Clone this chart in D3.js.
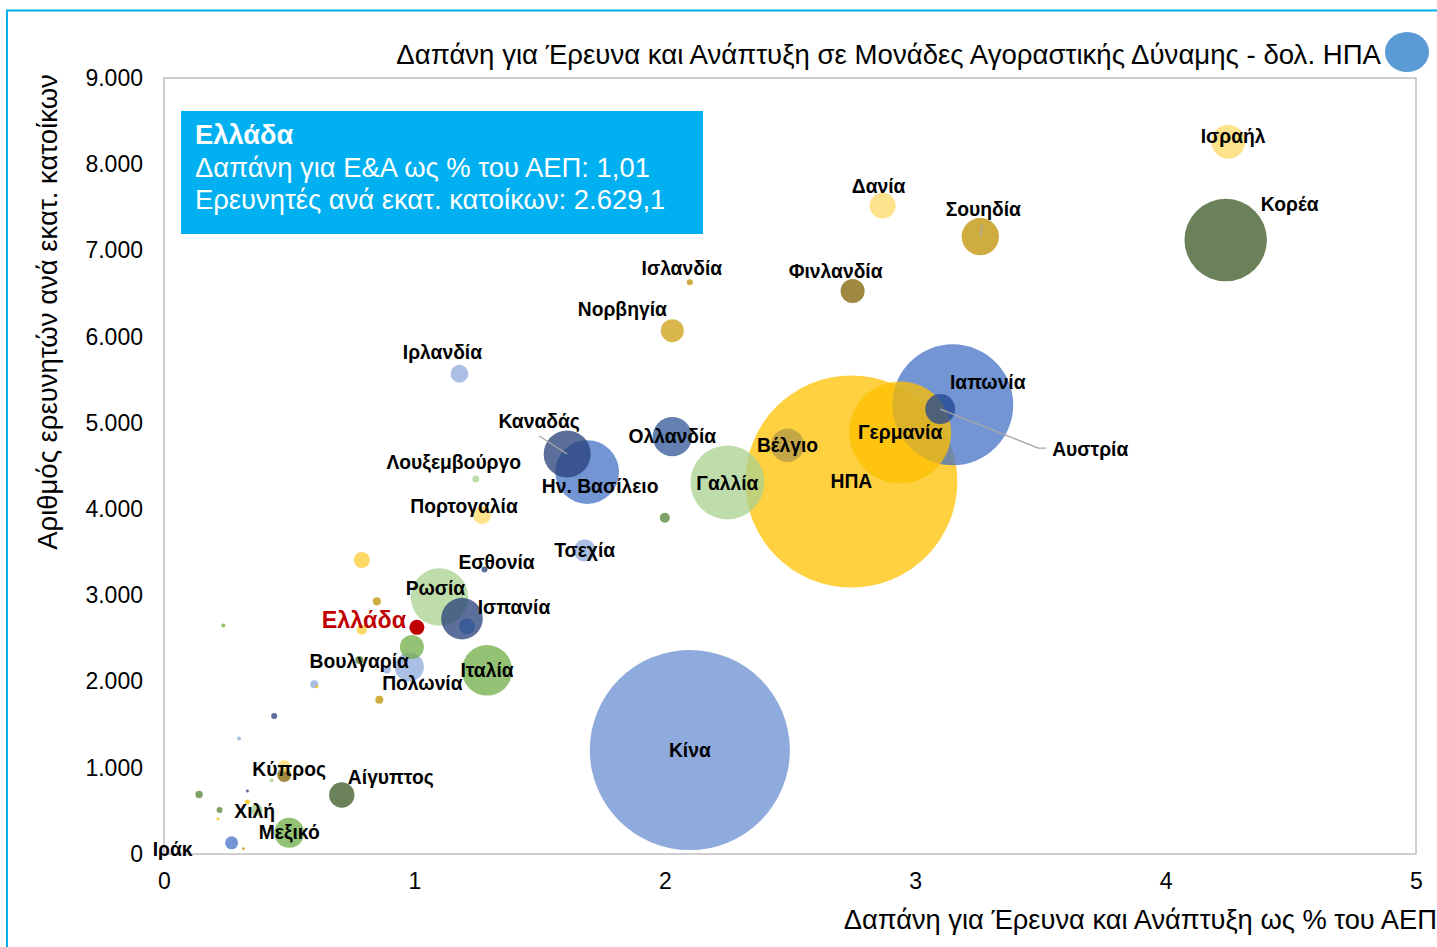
<!DOCTYPE html>
<html>
<head>
<meta charset="utf-8">
<script src="https://cdn.jsdelivr.net/npm/d3@7"></script>
<style>
  body { margin: 0; background: #fff; }
  svg text { font-family: "Liberation Sans", Arial, sans-serif; }
</style>
</head>
<body>
<div id="chart"></div>
<script>
/* DATA */
// country label ("" = unlabelled bubble)
const countries = [
  "Ισραήλ", "Κορέα", "Δανία", "Σουηδία", "Φινλανδία", "Ισλανδία", "Νορβηγία", "Ιρλανδία",
  "Καναδάς", "Ην. Βασίλειο", "Ολλανδία", "Γαλλία", "Βέλγιο", "ΗΠΑ", "Γερμανία", "Ιαπωνία",
  "Αυστρία", "Κίνα", "Ιταλία", "Ισπανία", "", "Ρωσία", "Ελλάδα", "", "Πολωνία", "",
  "Βουλγαρία", "", "", "", "Λουξεμβούργο", "Πορτογαλία", "Εσθονία", "Τσεχία", "", "", "",
  "", "", "", "Κύπρος", "", "", "Αίγυπτος", "", "", "", "", "", "Χιλή", "Μεξικό", "Ιράκ", "", ""
];
// GERD as % of GDP
const gerdPct = [
  4.25, 4.24, 2.87, 3.26, 2.75, 2.10, 2.03, 1.18,
  1.61, 1.69, 2.03, 2.25, 2.49, 2.745, 2.94, 3.15,
  3.10, 2.10, 1.29, 1.19, 1.21, 1.10, 1.01, 0.99, 0.98, 0.89,
  0.78, 0.79, 0.85, 0.79, 1.245, 1.27, 1.28, 1.68, 2.00, 0.60, 0.61,
  0.86, 0.44, 0.30, 0.48, 0.48, 0.43, 0.71, 0.14, 0.333, 0.333, 0.222, 0.216, 0.37, 0.50, 0.27, 0.317, 0.237
];
// researchers per million inhabitants
const researchers = [
  8260, 7120, 7520, 7160, 6530, 6630, 6070, 5570,
  4640, 4430, 4840, 4310, 4740, 4320, 4890, 5210,
  5160, 1206, 2130, 2730, 2640, 2980, 2629.1, 2400, 2170, 2140,
  2250, 2600, 2930, 3410, 4350, 3930, 3300, 3520, 3900, 1970, 1940,
  1790, 1600, 1340, 1020, 915, 855, 684, 690, 731, 603, 510, 406, 510, 246, 130, 61, 2650
];
// GERD in PPP, billion US$
const gerdPPP = [
  12.2, 72, 7.2, 14.8, 6.1, 0.38, 5.6, 3.4,
  23.4, 43, 16.4, 58, 11.8, 476, 110, 155,
  9.5, 424, 27, 18.3, 2.7, 35, 2.4, 6.1, 8.9, 0.68,
  0.68, 1.06, 0.68, 2.7, 0.52, 3.4, 0.38, 5.1, 1.06, 0.68, 0.095,
  0.68, 0.38, 0.17, 1.53, 2.08, 0.17, 6.8, 0.58, 0.095, 0.265, 0.38, 0.095, 1.53, 9.5, 1.8, 0.095, 0.17
];
const xTicks = [0, 1, 2, 3, 4, 5];
const yTicks = [0, 1000, 2000, 3000, 4000, 5000, 6000, 7000, 8000, 9000];
const greece = { name: "Ελλάδα", pct: "1,01", res: "2.629,1" };

/* STYLES (per bubble) */
const fills = [
  "#FFD966", "#385723", "#FFD966", "#BF9000", "#7F6000", "#BF9000", "#CC9F10", "#8FAADC",
  "#263F78", "#4472C4", "#2F5597", "#A9D18E", "#B09848", "#FFC000", "#FFC000", "#4472C4",
  "#1F4590", "#698DD0", "#70AD47", "#263F78", "#2F5597", "#A9D18E", "#C00000", "#70AD47", "#8FAADC", "#8FAADC",
  "#548235", "#FFCC33", "#BF9000", "#FFCC33", "#A9D18E", "#FFD966", "#263F78", "#8FAADC", "#548235", "#8FAADC", "#FFC000",
  "#BF9000", "#263F78", "#8FAADC", "#FFD966", "#7F6000", "#A9D18E", "#385723", "#548235", "#263F78", "#FFC000", "#548235", "#FFC000", "#A9D18E", "#70AD47", "#4472C4", "#BF9000", "#70AD47"
];
// label nudges in px, from bubble centre
const labelShift = {
  "Ισραήλ": [5, -5], "Κορέα": [64, -36], "Δανία": [-4, -19], "Σουηδία": [3, -27],
  "Φινλανδία": [-17, -19], "Ισλανδία": [-8, -14], "Νορβηγία": [-50, -21], "Ιρλανδία": [-17, -21],
  "Καναδάς": [-28, -32], "Ην. Βασίλειο": [13, 14], "Ιαπωνία": [35, -22], "Αυστρία": [150, 40],
  "Ισπανία": [52, -11], "Ρωσία": [-4, -9], "Ελλάδα": [-53, -7], "Πολωνία": [13, 17],
  "Λουξεμβούργο": [-22, -16], "Πορτογαλία": [-18, -9], "Εσθονία": [12, -7], "Κύπρος": [5, 3],
  "Αίγυπτος": [49, -18], "Χιλή": [-2, 1], "Ιράκ": [-59, 7], "Γαλλία": [0, 1], "Βουλγαρία": [0, 1]
};

const width = 1437, height = 947;
const plot = { left: 164, right: 1416, top: 78, bottom: 854 };

const svg = d3.select("#chart").append("svg")
  .attr("width", width)
  .attr("height", height);

// outer frame
svg.append("rect")
  .attr("x", 7).attr("y", 10.5)
  .attr("width", width + 20).attr("height", height + 20)
  .attr("fill", "none")
  .attr("stroke", "#00B0F0")
  .attr("stroke-width", 2);

const xScale = d3.scaleLinear().domain([0, 5]).range([plot.left, plot.right]);
const yScale = d3.scaleLinear().domain([0, 9000]).range([plot.bottom, plot.top]);
const rScale = d3.scaleSqrt().domain([0, 476]).range([0, 106]);

const grLocale = d3.formatLocale({ decimal: ",", thousands: ".", grouping: [3], currency: ["", "€"] });
const fmt = grLocale.format(",.0f");

// plot area box
svg.append("rect")
  .attr("x", plot.left).attr("y", plot.top)
  .attr("width", plot.right - plot.left).attr("height", plot.bottom - plot.top)
  .attr("fill", "none")
  .attr("stroke", "#BFBFBF")
  .attr("stroke-width", 1.5);

// axes
const yAxis = svg.append("g")
  .attr("transform", `translate(${plot.left},0)`)
  .call(d3.axisLeft(yScale).tickValues(yTicks).tickSize(0).tickPadding(21).tickFormat(fmt));
const xAxis = svg.append("g")
  .attr("transform", `translate(0,${plot.bottom})`)
  .call(d3.axisBottom(xScale).tickValues(xTicks).tickSize(0).tickPadding(19).tickFormat(d3.format("d")));
[xAxis, yAxis].forEach(g => {
  g.select(".domain").remove();
  g.selectAll("text").attr("font-size", 23).attr("fill", "#000")
    .attr("font-family", "Liberation Sans, Arial, sans-serif");
});

// axis titles
svg.append("text")
  .attr("transform", "translate(57,312) rotate(-90)")
  .attr("text-anchor", "middle")
  .attr("font-size", 27.5)
  .text("Αριθμός ερευνητών ανά εκατ. κατοίκων");
svg.append("text")
  .attr("x", 1437).attr("y", 929)
  .attr("text-anchor", "end")
  .attr("font-size", 27.3)
  .text("Δαπάνη για Έρευνα και Ανάπτυξη ως % του ΑΕΠ");

// legend
svg.append("text")
  .attr("x", 1381).attr("y", 64)
  .attr("text-anchor", "end")
  .attr("font-size", 27.6)
  .text("Δαπάνη για Έρευνα και Ανάπτυξη σε Μονάδες Αγοραστικής Δύναμης - δολ. ΗΠΑ");
svg.append("ellipse")
  .attr("cx", 1407).attr("cy", 52).attr("rx", 22).attr("ry", 20)
  .attr("fill", "#5B9BD5");

// bubbles
const data = countries.map((c, i) => ({
  name: c, x: gerdPct[i], y: researchers[i], v: gerdPPP[i], fill: fills[i]
}));
const ordered = data.slice().sort((a, b) => b.v - a.v);

svg.append("g")
  .selectAll("circle")
  .data(ordered)
  .join("circle")
  .attr("cx", d => xScale(d.x))
  .attr("cy", d => yScale(d.y))
  .attr("r", d => rScale(d.v))
  .attr("fill", d => d.fill)
  .attr("fill-opacity", d => d.name === "Ελλάδα" ? 1 : 0.75);

// leader lines
const lp = d => {
  const s = labelShift[d.name] || [0, 0];
  return [xScale(d.x) + s[0], yScale(d.y) + s[1]];
};
const byName = n => data.find(d => d.name === n);
const leaders = svg.append("g").attr("fill", "none").attr("stroke", "#A6A6A6").attr("stroke-width", 1.3);
{
  const c = byName("Καναδάς"), [lx, ly] = lp(c);
  leaders.append("polyline").attr("points", [[xScale(c.x), yScale(c.y)], [lx, ly + 14]].join(" "));
  const s = byName("Σουηδία"), [sx, sy] = lp(s);
  leaders.append("polyline").attr("points", [[xScale(s.x), yScale(s.y)], [sx - 1, sy + 15]].join(" "));
  const a = byName("Αυστρία"), [ax, ay] = lp(a);
  leaders.append("polyline").attr("points",
    [[xScale(a.x), yScale(a.y)], [ax - 52, ay - 1], [ax - 44, ay - 1]].join(" "));
}

// labels
svg.append("g")
  .selectAll("text")
  .data(data.filter(d => d.name !== ""))
  .join("text")
  .attr("x", d => lp(d)[0])
  .attr("y", d => lp(d)[1])
  .attr("text-anchor", "middle")
  .attr("dominant-baseline", "central")
  .attr("font-weight", "bold")
  .attr("font-size", d => d.name === "Ελλάδα" ? 23.4 : 19.3)
  .attr("fill", d => d.name === "Ελλάδα" ? "#C00000" : "#000")
  .text(d => d.name);

// info box for Greece
const box = svg.append("g");
box.append("rect")
  .attr("x", 181).attr("y", 111).attr("width", 522).attr("height", 123)
  .attr("fill", "#00B0F0");
box.append("text")
  .attr("x", 195).attr("y", 144)
  .attr("font-size", 27.3).attr("font-weight", "bold").attr("fill", "#fff")
  .text(greece.name);
box.append("text")
  .attr("x", 195).attr("y", 177)
  .attr("font-size", 27.4).attr("fill", "#fff")
  .text(`Δαπάνη για Ε&Α ως % του ΑΕΠ: ${greece.pct}`);
box.append("text")
  .attr("x", 195).attr("y", 209)
  .attr("font-size", 27.4).attr("fill", "#fff")
  .text(`Ερευνητές ανά εκατ. κατοίκων: ${greece.res}`);
</script>
</body>
</html>
